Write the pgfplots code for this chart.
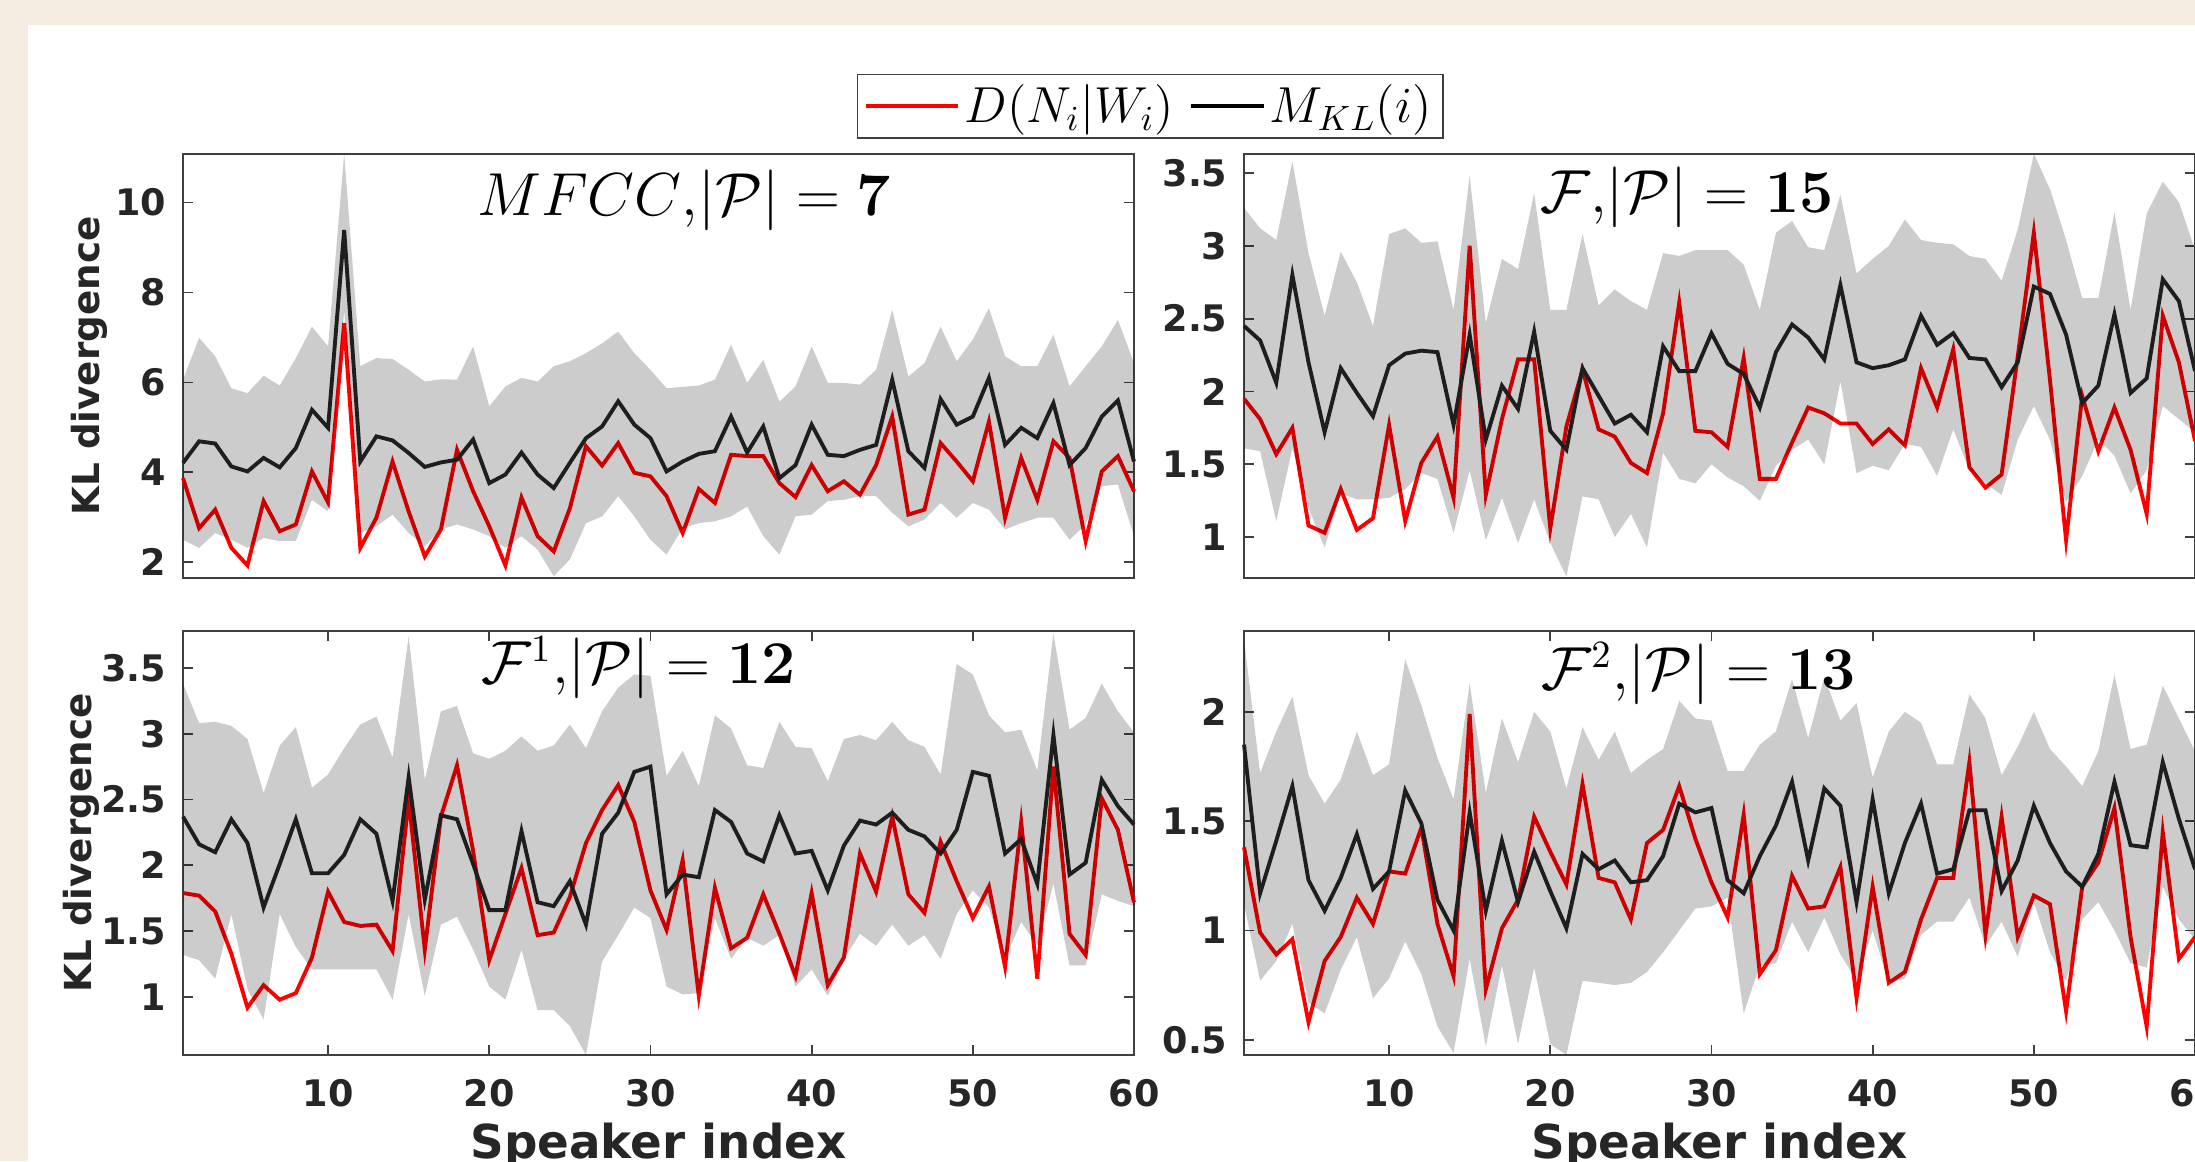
\documentclass[border=0pt]{standalone}
\usepackage[no-math]{fontspec}
\setmainfont{DejaVu Sans}
\usepackage{pgfplots}
\usepackage{pgfplotstable}
\pgfplotsset{compat=1.18}

\definecolor{bgbeige}{RGB}{246,237,226}
\definecolor{axgray}{RGB}{64,64,64}

% i  M_KL(i)  D(N_i|W_i)
\pgfplotstableread{
i m d
1 4.21 3.87
2 4.69 2.76
3 4.64 3.17
4 4.13 2.32
5 4.02 1.93
6 4.32 3.36
7 4.11 2.69
8 4.54 2.84
9 5.39 4.02
10 4.99 3.33
11 9.39 7.32
12 4.24 2.32
13 4.80 2.99
14 4.71 4.24
15 4.43 3.13
16 4.12 2.13
17 4.22 2.73
18 4.28 4.50
19 4.73 3.58
20 3.76 2.80
21 3.95 1.93
22 4.44 3.44
23 3.95 2.58
24 3.65 2.24
25 4.21 3.20
26 4.76 4.58
27 5.02 4.15
28 5.58 4.65
29 5.06 3.99
30 4.76 3.91
31 4.02 3.47
32 4.24 2.65
33 4.41 3.63
34 4.47 3.32
35 5.24 4.39
36 4.44 4.36
37 5.02 4.36
38 3.87 3.76
39 4.16 3.45
40 5.06 4.16
41 4.39 3.58
42 4.36 3.80
43 4.50 3.50
44 4.61 4.16
45 6.06 5.24
46 4.47 3.06
47 4.10 3.17
48 5.63 4.65
49 5.06 4.24
50 5.24 3.80
51 6.10 5.13
52 4.61 2.99
53 4.99 4.32
54 4.76 3.39
55 5.54 4.69
56 4.16 4.32
57 4.54 2.47
58 5.24 4.02
59 5.60 4.36
60 4.24 3.58
}\tabTL

\pgfplotstableread{
i m d
1 2.45 1.95
2 2.35 1.81
3 2.06 1.57
4 2.80 1.75
5 2.20 1.08
6 1.72 1.03
7 2.16 1.33
8 1.99 1.05
9 1.83 1.13
10 2.18 1.77
11 2.26 1.11
12 2.28 1.51
13 2.27 1.69
14 1.77 1.27
15 2.39 3.00
16 1.67 1.29
17 2.04 1.81
18 1.88 2.22
19 2.41 2.22
20 1.73 1.06
21 1.60 1.76
22 2.16 2.15
23 1.97 1.74
24 1.78 1.69
25 1.84 1.51
26 1.72 1.44
27 2.31 1.85
28 2.14 2.61
29 2.14 1.73
30 2.40 1.72
31 2.19 1.62
32 2.12 2.23
33 1.89 1.40
34 2.27 1.40
35 2.46 1.65
36 2.37 1.89
37 2.22 1.85
38 2.73 1.78
39 2.20 1.78
40 2.16 1.64
41 2.18 1.74
42 2.22 1.63
43 2.52 2.16
44 2.32 1.89
45 2.40 2.29
46 2.23 1.48
47 2.22 1.34
48 2.03 1.43
49 2.20 2.24
50 2.72 3.09
51 2.67 2.08
52 2.39 0.98
53 1.92 1.97
54 2.04 1.59
55 2.53 1.89
56 1.99 1.60
57 2.09 1.16
58 2.77 2.52
59 2.62 2.20
60 2.14 1.66
}\tabTR

\pgfplotstableread{
i m d
1 2.37 1.79
2 2.16 1.77
3 2.10 1.65
4 2.35 1.33
5 2.17 0.92
6 1.68 1.09
7 2.01 0.98
8 2.35 1.03
9 1.94 1.30
10 1.94 1.80
11 2.08 1.57
12 2.35 1.54
13 2.24 1.55
14 1.73 1.35
15 2.67 2.50
16 1.74 1.36
17 2.38 2.37
18 2.35 2.76
19 2.01 2.11
20 1.66 1.28
21 1.66 1.63
22 2.26 1.98
23 1.72 1.47
24 1.69 1.49
25 1.88 1.76
26 1.55 2.17
27 2.24 2.42
28 2.40 2.61
29 2.71 2.33
30 2.75 1.81
31 1.78 1.51
32 1.93 2.04
33 1.91 1.01
34 2.42 1.83
35 2.33 1.37
36 2.09 1.45
37 2.03 1.78
38 2.38 1.48
39 2.09 1.16
40 2.11 1.79
41 1.81 1.09
42 2.15 1.30
43 2.34 2.09
44 2.31 1.80
45 2.40 2.37
46 2.27 1.78
47 2.22 1.64
48 2.09 2.18
49 2.27 1.88
50 2.71 1.60
51 2.68 1.84
52 2.09 1.23
53 2.20 2.33
54 1.86 1.14
55 2.99 2.75
56 1.93 1.48
57 2.02 1.32
58 2.65 2.51
59 2.45 2.27
60 2.31 1.72
}\tabBL

\pgfplotstableread{
i m d
1 1.85 1.38
2 1.17 0.99
3 1.41 0.89
4 1.66 0.96
5 1.23 0.58
6 1.09 0.86
7 1.24 0.97
8 1.44 1.15
9 1.19 1.03
10 1.27 1.27
11 1.64 1.26
12 1.49 1.47
13 1.14 1.03
14 1.00 0.79
15 1.54 1.99
16 1.09 0.73
17 1.41 1.01
18 1.13 1.14
19 1.36 1.52
20 1.18 1.36
21 1.01 1.21
22 1.35 1.67
23 1.28 1.24
24 1.32 1.22
25 1.22 1.05
26 1.23 1.40
27 1.34 1.46
28 1.58 1.66
29 1.54 1.42
30 1.56 1.22
31 1.23 1.06
32 1.17 1.53
33 1.34 0.80
34 1.48 0.91
35 1.68 1.25
36 1.32 1.10
37 1.65 1.11
38 1.57 1.29
39 1.13 0.69
40 1.60 1.20
41 1.17 0.76
42 1.40 0.81
43 1.58 1.05
44 1.26 1.24
45 1.28 1.24
46 1.55 1.77
47 1.55 0.98
48 1.18 1.52
49 1.32 0.97
50 1.57 1.16
51 1.40 1.12
52 1.27 0.63
53 1.20 1.20
54 1.35 1.31
55 1.68 1.56
56 1.39 0.97
57 1.38 0.56
58 1.77 1.45
59 1.51 0.87
60 1.28 0.97
}\tabBR

\pgfplotsset{
  klpanel/.style={
    scale only axis, width=95.1mm, height=42.4mm, anchor=south west,
    xmin=1, xmax=60,
    axis line style={draw=axgray, line width=0.6pt},
    tick align=inside, major tick length=1mm,
    tick style={draw=axgray, line width=0.5pt},
    /pgf/number format/assume math mode=true,
    ticklabel style={font=\fontsize{10.4}{12}\selectfont\bfseries, text=black!85},
    yticklabel style={anchor=east, inner sep=0pt, xshift=-1.6mm},
    xticklabel style={anchor=north, inner sep=0pt, yshift=-2.4mm},
    clip=false,
  },
  % translucent band laid over the lines, as in the original figure
  band/.style={fill=black, fill opacity=0.2, draw=none, forget plot},
  dline/.style={draw=red, line width=1.1pt},
  mline/.style={draw=black!85, line width=1.1pt},
}

\newcommand{\ttl}[3]{\node[anchor=base, font=\fontsize{16}{19}\selectfont, text=black] at (rel axis cs:#1,#2) {#3};}
\newcommand{\ylab}[1]{\node[rotate=90, anchor=base, font=\fontsize{10.6}{12}\selectfont\bfseries, text=black!85] at (rel axis cs:#1,0.5) {KL divergence};}
\newcommand{\xlab}{\node[anchor=base, font=\fontsize{13.3}{15}\selectfont\bfseries, text=black!85] at (rel axis cs:0.5,-0.245) {Speaker index};}

\begin{document}
\begin{tikzpicture}
\fill[bgbeige] (0,0) rectangle (219.5mm,116.1mm);
\fill[white] (2.8mm,0) rectangle (219.5mm,113.6mm);

% top left
\begin{axis}[klpanel, at={(18.3mm,58.3mm)},
    ymin=1.65, ymax=11.08, ytick={2,4,6,8,10}, xtick=\empty,
    legend columns=2,
    legend style={at={(1.017,1.113)}, anchor=center, draw=axgray, line width=0.5pt,
      font=\fontsize{13.7}{15}\selectfont, inner xsep=0.7mm, inner ysep=0.55mm,
      nodes={inner xsep=0.45mm, inner ysep=0.45mm},
      /tikz/every even column/.append style={column sep=1.0mm}},
  ]
  \addplot[dline, legend image code/.code={\draw[red, line width=1.1pt] (0mm,0mm) -- (9.2mm,0mm);}]
    table[x=i, y=d] {\tabTL};
  \addlegendentry{$D(N_i|W_i)$}
  \addplot[mline, legend image code/.code={\draw[black, line width=1.1pt] (0mm,0mm) -- (7.3mm,0mm);}]
    table[x=i, y=m] {\tabTL};
  \addlegendentry{$M_{KL}(i)$}
  \addplot[band] coordinates {
    (1,6.06) (2,6.99) (3,6.58) (4,5.87) (5,5.76) (6,6.15) (7,5.93) (8,6.54) (9,7.24) (10,6.80)
    (11,11.08) (12,6.36) (13,6.54) (14,6.52) (15,6.28) (16,6.02) (17,6.07) (18,6.06) (19,6.80) (20,5.47)
    (21,5.91) (22,6.10) (23,6.02) (24,6.36) (25,6.47) (26,6.65) (27,6.87) (28,7.13) (29,6.65) (30,6.28)
    (31,5.87) (32,5.90) (33,5.93) (34,6.06) (35,6.84) (36,5.99) (37,6.50) (38,5.57) (39,5.91) (40,6.80)
    (41,5.99) (42,5.99) (43,5.95) (44,6.28) (45,7.61) (46,6.13) (47,6.43) (48,7.24) (49,6.47) (50,6.95)
    (51,7.65) (52,6.58) (53,6.36) (54,6.36) (55,7.06) (56,5.91) (57,6.36) (58,6.80) (59,7.39) (60,6.43)
    (60,2.58) (59,3.73) (58,3.69) (57,2.84) (56,2.50) (55,2.99) (54,2.99) (53,2.87) (52,2.73) (51,3.17)
    (50,3.32) (49,2.99) (48,3.32) (47,2.95) (46,2.80) (45,3.10) (44,3.47) (43,3.47) (42,3.39) (41,3.36)
    (40,3.06) (39,3.02) (38,2.17) (37,2.58) (36,3.24) (35,3.02) (34,2.91) (33,2.87) (32,2.76) (31,2.17)
    (30,2.50) (29,3.02) (28,3.47) (27,3.02) (26,2.87) (25,2.06) (24,1.69) (23,2.28) (22,2.58) (21,2.32)
    (20,2.58) (19,2.73) (18,2.84) (17,2.73) (16,2.36) (15,2.65) (14,3.06) (13,2.80) (12,2.65) (11,7.60)
    (10,3.13) (9,3.39) (8,2.47) (7,2.47) (6,2.54) (5,2.32) (4,2.50) (3,2.65) (2,2.32) (1,2.50)
  };
  \ttl{0.527}{0.856}{$MFCC{,}|\mathcal{P}| = \mathbf{7}$}
  \ylab{-0.0883}
\end{axis}

% top right
\begin{axis}[klpanel, at={(124.4mm,58.3mm)},
    ymin=0.72, ymax=3.63, ytick={1,1.5,2,2.5,3,3.5}, xtick=\empty]
  \addplot[dline] table[x=i, y=d] {\tabTR};
  \addplot[mline] table[x=i, y=m] {\tabTR};
  \addplot[band] coordinates {
    (1,3.26) (2,3.12) (3,3.04) (4,3.58) (5,2.95) (6,2.52) (7,2.96) (8,2.75) (9,2.45) (10,3.08)
    (11,3.12) (12,3.02) (13,3.03) (14,2.56) (15,3.48) (16,2.47) (17,2.91) (18,2.84) (19,3.36) (20,2.56)
    (21,2.56) (22,3.08) (23,2.59) (24,2.70) (25,2.62) (26,2.56) (27,2.95) (28,2.93) (29,2.97) (30,2.97)
    (31,2.97) (32,2.87) (33,2.56) (34,3.09) (35,3.17) (36,2.99) (37,2.97) (38,3.35) (39,2.81) (40,2.91)
    (41,3.00) (42,3.18) (43,3.04) (44,3.02) (45,3.01) (46,2.93) (47,2.91) (48,2.76) (49,3.11) (50,3.63)
    (51,3.39) (52,3.04) (53,2.64) (54,2.64) (55,3.23) (56,2.56) (57,3.22) (58,3.44) (59,3.30) (60,2.97)
    (60,1.72) (59,1.81) (58,1.90) (57,1.46) (56,1.30) (55,1.56) (54,1.67) (53,1.42) (52,1.24) (51,1.67)
    (50,1.90) (49,1.67) (48,1.29) (47,1.37) (46,1.46) (45,1.74) (44,1.42) (43,1.62) (42,1.64) (41,1.46)
    (40,1.49) (39,1.44) (38,2.07) (37,1.50) (36,1.67) (35,1.60) (34,1.49) (33,1.25) (32,1.35) (31,1.41)
    (30,1.50) (29,1.37) (28,1.40) (27,1.58) (26,0.93) (25,1.16) (24,1.00) (23,1.26) (22,1.28) (21,0.73)
    (20,0.96) (19,1.26) (18,0.96) (17,1.27) (16,0.98) (15,1.46) (14,1.03) (13,1.40) (12,1.44) (11,1.33)
    (10,1.27) (9,1.26) (8,1.26) (7,1.30) (6,0.93) (5,1.20) (4,1.61) (3,1.11) (2,1.59) (1,1.61)
  };
  \ttl{0.466}{0.863}{$\mathcal{F}{,}|\mathcal{P}| = \mathbf{15}$}
\end{axis}

% bottom left
\begin{axis}[klpanel, at={(18.3mm,10.6mm)},
    ymin=0.56, ymax=3.78, ytick={1,1.5,2,2.5,3,3.5}, xtick={10,20,30,40,50,60}]
  \addplot[dline] table[x=i, y=d] {\tabBL};
  \addplot[mline] table[x=i, y=m] {\tabBL};
  \addplot[band] coordinates {
    (1,3.38) (2,3.08) (3,3.09) (4,3.06) (5,2.96) (6,2.55) (7,2.91) (8,3.05) (9,2.59) (10,2.69)
    (11,2.89) (12,3.07) (13,3.13) (14,2.82) (15,3.74) (16,2.65) (17,3.17) (18,3.21) (19,2.85) (20,2.81)
    (21,2.87) (22,2.98) (23,2.87) (24,2.91) (25,3.07) (26,2.89) (27,3.17) (28,3.35) (29,3.45) (30,3.44)
    (31,2.68) (32,2.87) (33,2.60) (34,3.14) (35,3.04) (36,2.76) (37,2.74) (38,3.09) (39,2.90) (40,2.89)
    (41,2.64) (42,2.96) (43,2.99) (44,2.95) (45,3.09) (46,2.95) (47,2.90) (48,2.69) (49,3.53) (50,3.45)
    (51,3.14) (52,3.01) (53,3.03) (54,2.72) (55,3.76) (56,3.03) (57,3.12) (58,3.38) (59,3.17) (60,3.01)
    (60,1.69) (59,1.73) (58,1.78) (57,1.24) (56,1.24) (55,1.86) (54,1.39) (53,1.57) (52,1.29) (51,1.68)
    (50,1.81) (49,1.63) (48,1.29) (47,1.47) (46,1.39) (45,1.55) (44,1.39) (43,1.48) (42,1.29) (41,1.01)
    (40,1.21) (39,1.08) (38,1.47) (37,1.39) (36,1.45) (35,1.29) (34,1.60) (33,1.03) (32,1.02) (31,1.08)
    (30,1.60) (29,1.68) (28,1.47) (27,1.27) (26,0.56) (25,0.78) (24,0.90) (23,0.90) (22,1.36) (21,0.98)
    (20,1.08) (19,1.36) (18,1.61) (17,1.55) (16,1.01) (15,1.63) (14,0.98) (13,1.21) (12,1.21) (11,1.21)
    (10,1.21) (9,1.21) (8,1.38) (7,1.63) (6,0.83) (5,1.06) (4,1.63) (3,1.14) (2,1.28) (1,1.32)
  };
  \ttl{0.479}{0.877}{$\mathcal{F}^1{,}|\mathcal{P}| = \mathbf{12}$}
  \ylab{-0.0957}
  \xlab
\end{axis}

% bottom right
\begin{axis}[klpanel, at={(124.4mm,10.6mm)},
    ymin=0.43, ymax=2.37, ytick={0.5,1,1.5,2}, xtick={10,20,30,40,50,60}]
  \addplot[dline] table[x=i, y=d] {\tabBR};
  \addplot[mline] table[x=i, y=m] {\tabBR};
  \addplot[band] coordinates {
    (1,2.33) (2,1.72) (3,1.91) (4,2.07) (5,1.71) (6,1.58) (7,1.69) (8,1.91) (9,1.71) (10,1.76)
    (11,2.24) (12,2.03) (13,1.79) (14,1.60) (15,2.13) (16,1.63) (17,1.97) (18,1.77) (19,2.00) (20,1.91)
    (21,1.65) (22,1.93) (23,1.78) (24,1.91) (25,1.72) (26,1.78) (27,1.83) (28,2.05) (29,1.97) (30,1.96)
    (31,1.73) (32,1.73) (33,1.85) (34,1.91) (35,2.15) (36,1.88) (37,2.16) (38,1.96) (39,2.04) (40,1.70)
    (41,1.91) (42,2.00) (43,1.95) (44,1.76) (45,1.76) (46,2.08) (47,1.97) (48,1.71) (49,1.84) (50,2.00)
    (51,1.83) (52,1.75) (53,1.66) (54,1.82) (55,2.17) (56,1.83) (57,1.85) (58,2.12) (59,1.97) (60,1.82)
    (60,0.96) (59,1.05) (58,1.20) (57,0.83) (56,0.85) (55,1.00) (54,1.13) (53,1.05) (52,0.77) (51,0.90)
    (50,1.13) (49,0.88) (48,1.04) (47,0.93) (46,1.15) (45,1.04) (44,1.04) (43,0.98) (42,0.78) (41,0.76)
    (40,1.00) (39,0.77) (38,0.89) (37,1.06) (36,0.90) (35,1.04) (34,0.85) (33,0.84) (32,0.62) (31,1.15)
    (30,1.11) (29,1.10) (28,1.00) (27,0.90) (26,0.81) (25,0.76) (24,0.75) (23,0.76) (22,0.77) (21,0.43)
    (20,0.48) (19,0.83) (18,0.48) (17,0.84) (16,0.47) (15,0.87) (14,0.44) (13,0.56) (12,0.80) (11,0.95)
    (10,0.78) (9,0.69) (8,0.97) (7,0.82) (6,0.62) (5,0.67) (4,1.03) (3,0.86) (2,0.77) (1,1.12)
  };
  \ttl{0.478}{0.861}{$\mathcal{F}^2{,}|\mathcal{P}| = \mathbf{13}$}
  \xlab
\end{axis}
\pgfresetboundingbox
\path[use as bounding box] (0,0) rectangle (219.5mm,116.1mm);
\end{tikzpicture}
\end{document}
